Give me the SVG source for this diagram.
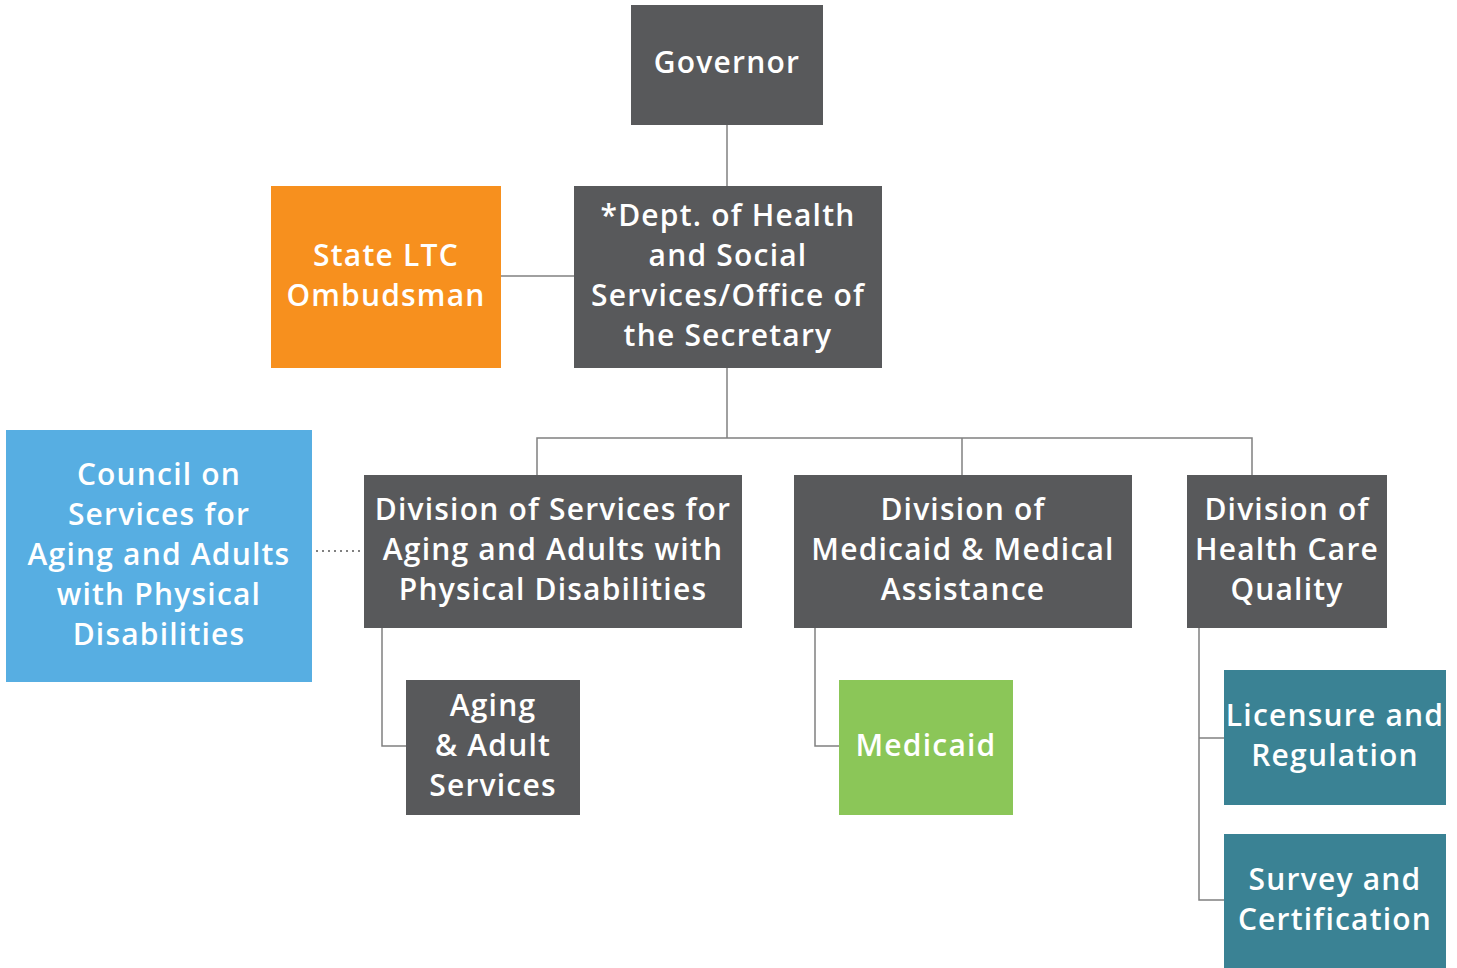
<svg xmlns="http://www.w3.org/2000/svg" width="1457" height="968" viewBox="0 0 1457 968">
<style>
.box{stroke:none}
.dark{fill:#58595B}
.orange{fill:#F7901E}
.blue{fill:#57AEE2}
.green{fill:#8BC658}
.teal{fill:#3A8294}
text{font-family:"Open Sans","Liberation Sans",sans-serif;font-weight:600;font-size:30px;letter-spacing:1.2px;fill:#FFFFFF;text-anchor:middle}
.conn{fill:none;stroke:#808080;stroke-width:1.5}
.dot{fill:none;stroke:#808080;stroke-width:2;stroke-dasharray:2 4}
</style>
<rect width="1457" height="968" fill="#FFFFFF"/>
<g id="connectors">
<path class="conn" d="M727 125V186"/>
<path class="conn" d="M501 276H574"/>
<path class="conn" d="M727 368V438"/>
<path class="conn" d="M537 475V438H1252V475"/>
<path class="conn" d="M962 438V475"/>
<path class="conn" d="M382 628V746H406"/>
<path class="conn" d="M815 628V746H839"/>
<path class="conn" d="M1199 628V900H1224"/>
<path class="conn" d="M1199 738H1224"/>
<path class="dot" d="M316 551H362"/>
</g>
<g id="governor">
<rect class="box dark" x="631" y="5" width="192" height="120"/>
<text x="727" y="73">Governor</text>
</g>
<g id="dept">
<rect class="box dark" x="574" y="186" width="308" height="182"/>
<text x="728" y="226">*Dept. of Health</text>
<text x="728" y="266">and Social</text>
<text x="728" y="306">Services/Office of</text>
<text x="728" y="346">the Secretary</text>
</g>
<g id="ombudsman">
<rect class="box orange" x="271" y="186" width="230" height="182"/>
<text x="386" y="266">State LTC</text>
<text x="386" y="306">Ombudsman</text>
</g>
<g id="council">
<rect class="box blue" x="6" y="430" width="306" height="252"/>
<text x="159" y="485">Council on</text>
<text x="159" y="525">Services for</text>
<text x="159" y="565">Aging and Adults</text>
<text x="159" y="605">with Physical</text>
<text x="159" y="645">Disabilities</text>
</g>
<g id="dsaapd">
<rect class="box dark" x="364" y="475" width="378" height="153"/>
<text x="553" y="520">Division of Services for</text>
<text x="553" y="560">Aging and Adults with</text>
<text x="553" y="600">Physical Disabilities</text>
</g>
<g id="dmma">
<rect class="box dark" x="794" y="475" width="338" height="153"/>
<text x="963" y="520">Division of</text>
<text x="963" y="560">Medicaid &amp; Medical</text>
<text x="963" y="600">Assistance</text>
</g>
<g id="dhcq">
<rect class="box dark" x="1187" y="475" width="200" height="153"/>
<text x="1287" y="520">Division of</text>
<text x="1287" y="560">Health Care</text>
<text x="1287" y="600">Quality</text>
</g>
<g id="aging-adult">
<rect class="box dark" x="406" y="680" width="174" height="135"/>
<text x="493" y="716">Aging</text>
<text x="493" y="756">&amp; Adult</text>
<text x="493" y="796">Services</text>
</g>
<g id="medicaid">
<rect class="box green" x="839" y="680" width="174" height="135"/>
<text x="926" y="756">Medicaid</text>
</g>
<g id="licensure">
<rect class="box teal" x="1224" y="670" width="222" height="135"/>
<text x="1335" y="726">Licensure and</text>
<text x="1335" y="766">Regulation</text>
</g>
<g id="survey">
<rect class="box teal" x="1224" y="834" width="222" height="134"/>
<text x="1335" y="890">Survey and</text>
<text x="1335" y="930">Certification</text>
</g>
</svg>
